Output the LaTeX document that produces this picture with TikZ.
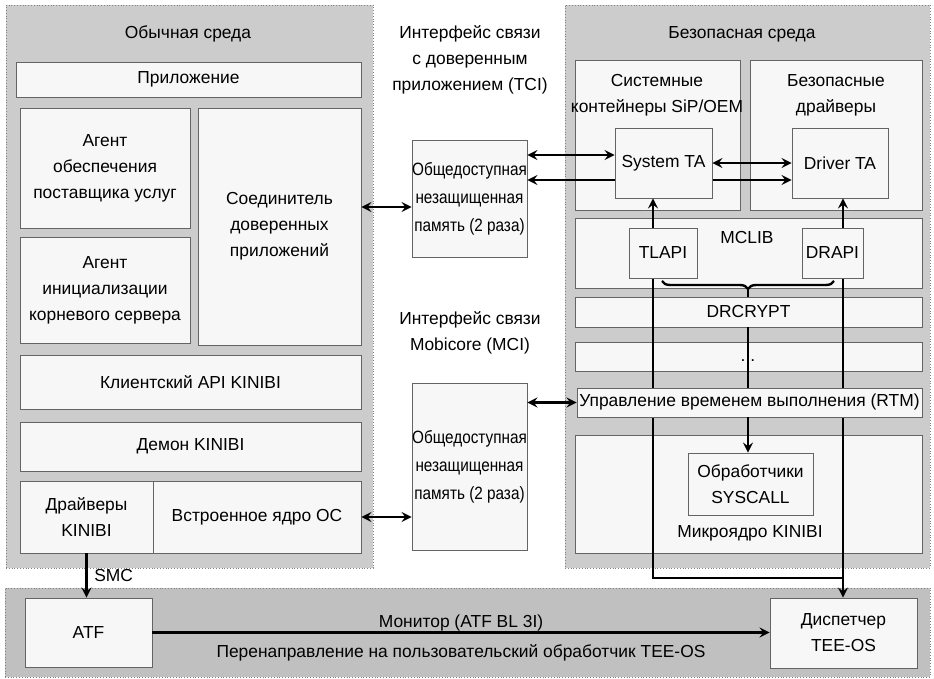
\documentclass[tikz,border=0pt]{standalone}
\usepackage{fontspec}
\setmainfont{Liberation Sans}
\newfontfamily\narrowfont[FakeStretch=0.86]{Liberation Sans}
\usetikzlibrary{arrows,fit,decorations.pathreplacing}
\definecolor{zonegray}{RGB}{204,204,204}
\definecolor{bandgray}{RGB}{192,192,192}
\definecolor{edgegray}{RGB}{100,100,100}
\definecolor{boxwhite}{RGB}{247,247,247}
\tikzset{wh/.style 2 args={minimum width=#1pt, minimum height=#2pt}}

\begin{document}
\begin{tikzpicture}[x=0.5pt, y=-0.5pt,
    font=\fontsize{8.7}{13}\selectfont,
    zone/.style={draw=gray, densely dotted, fill=zonegray, inner sep=0pt},
    block/.style={draw=edgegray, fill=boxwhite, inner sep=0pt, align=center},
    mem/.style={block, font=\narrowfont\fontsize{8.9}{14}\selectfont},
    title/.style={align=center, inner sep=1pt},
    arrow/.style={->, >=stealth, line width=1.2pt},
    twoway/.style={<->, >=stealth, line width=1.2pt}
]
\fill[white] (0,0) rectangle (934,679);
\useasboundingbox (0,0) rectangle (934,679);

% three zones
\node[zone, fit={(6,5) (373,568)}] (normal) {};
\node[zone, fit={(565,5) (930,568)}] (secure) {};
\node[zone, fill=bandgray, fit={(5,588) (930,677)}] (monitor) {};

% normal world
\node[title] (normaltitle) at (188,34) {Обычная среда};
\node[block, wh={172.5}{17.5}] (app) at (188.5,79.5) {Приложение};
\node[block, wh={85}{60}] (agent1) at (105,168) {Агент\\обеспечения\\поставщика услуг};
\node[block, wh={81.5}{118.5}] (conn) at (279.5,226.5) {Соединитель\\доверенных\\приложений};
\node[block, wh={85}{53}] (agent2) at (105,290) {Агент\\инициализации\\корневого сервера};
\node[block, wh={170.5}{27}] (capi) at (190.5,382) {Клиентский API KINIBI};
\node[block, wh={170.5}{24.5}] (daemon) at (190.5,446.5) {Демон KINIBI};
\node[block, wh={66.5}{36}] (kdrv) at (86.5,517) {Драйверы\\KINIBI};
\node[block, wh={104}{36}] (kos) at (257,517) {Встроенное ядро ОС};

% shared memory
\node[title] (tcilabel) at (470,60) {Интерфейс связи\\с доверенным\\приложением (TCI)};
\node[mem, wh={57.5}{58.5}] (mem1) at (469.5,198.5) {Общедоступная\\незащищенная\\память (2 раза)};
\node[title] (mcilabel) at (470,333) {Интерфейс связи\\Mobicore (MCI)};
\node[mem, wh={57.5}{83.5}] (mem2) at (469.5,466.5) {Общедоступная\\незащищенная\\память (2 раза)};

% secure world
\node[title] (securetitle) at (742,34) {Безопасная среда};
\node[block, wh={82.5}{75}] (sipbox) at (657.5,135) {};
\node[title] (siplabel) at (657,95) {Системные\\контейнеры SiP/OEM};
\node[block, wh={86}{75}] (drvbox) at (836,135) {};
\node[title] (drvlabel) at (836,95) {Безопасные\\драйверы};
\node[block, wh={48}{35}] (drvta) at (840,163) {Driver TA};
\coordinate (tciA) at (0,155);
\coordinate (tciB) at (0,180);
\coordinate (tciC) at (0,207);
\draw[twoway] (mem1.east |- tciB) -- (drvta.west |- tciB);
\node[block, wh={48.5}{35}] (systa) at (663.5,163) {System TA};
\node[block, wh={173.5}{35}] (mclib) at (748.5,253) {};
\node[title] (mcliblabel) at (747,238) {MCLIB};
\node[block, wh={173.5}{15}] (drcrypt) at (748.5,312) {DRCRYPT};
\node[block, wh={173.5}{14.5}] (spare) at (748.5,356.5) {};
\node[block, wh={173.5}{59}] (kernel) at (748.5,494) {};
\node[title] (kernellabel) at (750,533) {Микроядро KINIBI};
\node[block, wh={62.5}{31}] (syscall) at (750.5,484) {Обработчики\\SYSCALL};

% monitor
\node[block, wh={63.5}{34.5}] (atf) at (88.5,632.5) {ATF};
\node[block, wh={73.5}{35}] (disp) at (843.5,633) {Диспетчер\\TEE-OS};

% paths down to the dispatcher
\coordinate (jl) at (653,578);
\coordinate (jr) at (843,578);
\draw[arrow] (jr) -- (jl) -- (jl |- systa.south);
\draw[twoway] (drvta.south -| jr) -- (disp.north -| jr);

\node[block, wh={172.5}{14.5}] (rtm) at (749.5,402.5) {Управление временем выполнения (RTM)};
\node[block, wh={34}{25}] (tlapi) at (663,253) {TLAPI};
\node[block, wh={30.5}{25}] (drapi) at (832.5,253) {DRAPI};

\coordinate (btip) at (748,290);
\draw[line width=1.2pt, decorate, decoration={brace, mirror, amplitude=4pt}] (662,281) -- (834,281);
\draw[line width=1.2pt] (btip) -- (btip |- drcrypt.north);
\draw[line width=1.2pt] (btip |- drcrypt.south) -- (btip |- rtm.north);
\node[inner sep=0pt] (dots) at (748,361) {...};
\draw[arrow] (rtm.south -| btip) -- (syscall.north -| btip);

% links
\draw[twoway] (mem1.east |- tciA) -- (systa.west |- tciA);
\draw[twoway] (systa.east) -- (drvta.west);
\draw[twoway] (conn.east |- tciC) -- (mem1.west |- tciC);
\draw[twoway] (mem2.east |- rtm.west) -- (rtm.west);
\draw[twoway] (kos.east) -- (mem2.west |- kos.east);
\draw[arrow] (kdrv.south) -- (kdrv.south |- atf.north) node[midway, right] {SMC};
\draw[arrow] (atf.east) -- (disp.west |- atf.east)
    node[midway, above, yshift=-3pt] {Монитор (ATF BL 3I)}
    node[midway, below, yshift=-2pt] {Перенаправление на пользовательский обработчик TEE-OS};
\end{tikzpicture}
\end{document}
